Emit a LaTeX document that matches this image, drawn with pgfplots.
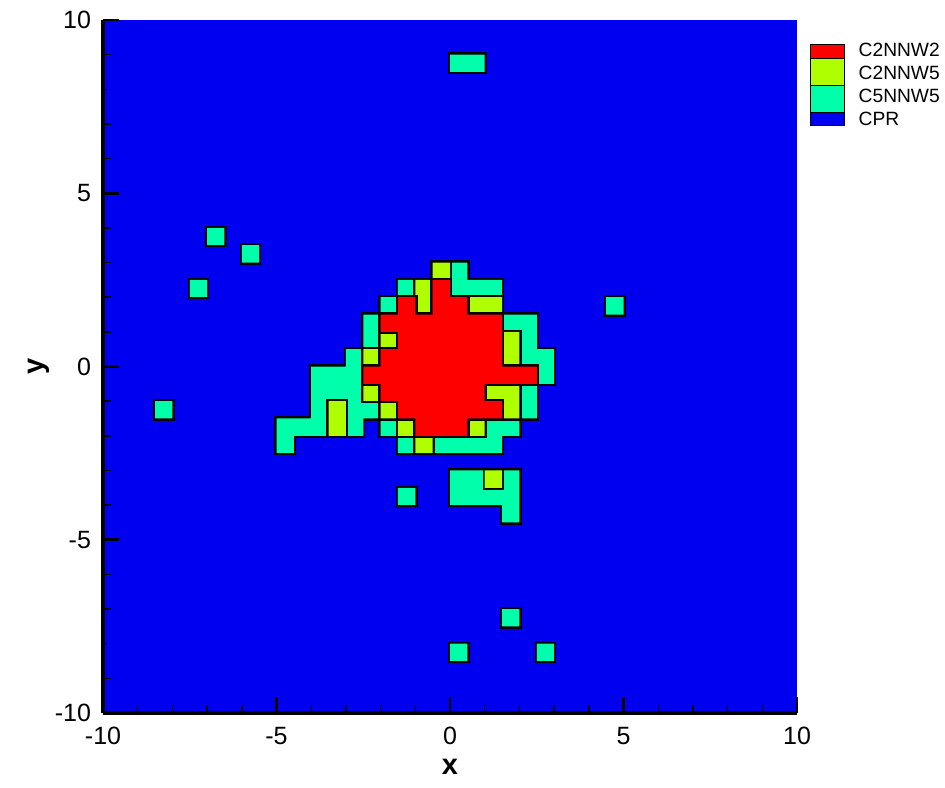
\documentclass[border=0pt]{standalone}
\usepackage{pgfplots}
\pgfplotsset{compat=1.18}
\usepackage{pgfplotstable}
\usepackage{fontspec}
\setmainfont{Liberation Sans}
\definecolor{cprblue}{RGB}{0,0,240}
\definecolor{cfive}{RGB}{0,255,170}
\definecolor{ctwofive}{RGB}{175,255,0}
\definecolor{ctwotwo}{RGB}{255,0,0}

% Layer 1: all non-CPR cells (C5NNW5 and above), as rectangles separated by nan
\pgfplotstableread{
x y
-0.5 2.5
0.5 2.5
0.5 3
-0.5 3
-0.5 2.5
nan nan
-1.5 2
1.5 2
1.5 2.5
-1.5 2.5
-1.5 2
nan nan
-2 1.5
1.5 1.5
1.5 2
-2 2
-2 1.5
nan nan
-2.5 0.5
2.5 0.5
2.5 1.5
-2.5 1.5
-2.5 0.5
nan nan
-3 0
3 0
3 0.5
-3 0.5
-3 0
nan nan
-4 -0.5
3 -0.5
3 0
-4 0
-4 -0.5
nan nan
-4 -1.5
2.5 -1.5
2.5 -0.5
-4 -0.5
-4 -1.5
nan nan
-5 -2
-2.5 -2
-2.5 -1.5
-5 -1.5
-5 -2
nan nan
-2 -2
2 -2
2 -1.5
-2 -1.5
-2 -2
nan nan
-5 -2.5
-4.5 -2.5
-4.5 -2
-5 -2
-5 -2.5
nan nan
-1.5 -2.5
1.5 -2.5
1.5 -2
-1.5 -2
-1.5 -2.5
nan nan
0 -4
2 -4
2 -3
0 -3
0 -4
nan nan
-1.5 -4
-1 -4
-1 -3.5
-1.5 -3.5
-1.5 -4
nan nan
1.5 -4.5
2 -4.5
2 -4
1.5 -4
1.5 -4.5
nan nan
0 8.5
1 8.5
1 9
0 9
0 8.5
nan nan
-7 3.5
-6.5 3.5
-6.5 4
-7 4
-7 3.5
nan nan
-6 3
-5.5 3
-5.5 3.5
-6 3.5
-6 3
nan nan
-7.5 2
-7 2
-7 2.5
-7.5 2.5
-7.5 2
nan nan
-8.5 -1.5
-8 -1.5
-8 -1
-8.5 -1
-8.5 -1.5
nan nan
4.5 1.5
5 1.5
5 2
4.5 2
4.5 1.5
nan nan
1.5 -7.5
2 -7.5
2 -7
1.5 -7
1.5 -7.5
nan nan
0 -8.5
0.5 -8.5
0.5 -8
0 -8
0 -8.5
nan nan
2.5 -8.5
3 -8.5
3 -8
2.5 -8
2.5 -8.5
}\layerA

% Layer 2: C2NNW5 and C2NNW2 cells
\pgfplotstableread{
x y
-0.5 2.5
0 2.5
0 3
-0.5 3
-0.5 2.5
nan nan
-1 2
0 2
0 2.5
-1 2.5
-1 2
nan nan
-1.5 1.5
1.5 1.5
1.5 2
-1.5 2
-1.5 1.5
nan nan
-2 1
1.5 1
1.5 1.5
-2 1.5
-2 1
nan nan
-2 0.5
2 0.5
2 1
-2 1
-2 0.5
nan nan
-2.5 0
2 0
2 0.5
-2.5 0.5
-2.5 0
nan nan
-2.5 -0.5
2.5 -0.5
2.5 0
-2.5 0
-2.5 -0.5
nan nan
-2.5 -1
2 -1
2 -0.5
-2.5 -0.5
-2.5 -1
nan nan
-2 -1.5
2 -1.5
2 -1
-2 -1
-2 -1.5
nan nan
-1.5 -2
1 -2
1 -1.5
-1.5 -1.5
-1.5 -2
nan nan
-1 -2.5
-0.5 -2.5
-0.5 -2
-1 -2
-1 -2.5
nan nan
-3.5 -2
-3 -2
-3 -1
-3.5 -1
-3.5 -2
nan nan
1 -3.5
1.5 -3.5
1.5 -3
1 -3
1 -3.5
}\layerB

% Layer 3: C2NNW2 cells
\pgfplotstableread{
x y
-0.5 2
0 2
0 2.5
-0.5 2.5
-0.5 2
nan nan
-1.5 1.5
-1 1.5
-1 2
-1.5 2
-1.5 1.5
nan nan
-0.5 1.5
0.5 1.5
0.5 2
-0.5 2
-0.5 1.5
nan nan
-2 1
1.5 1
1.5 1.5
-2 1.5
-2 1
nan nan
-1.5 0.5
1.5 0.5
1.5 1
-1.5 1
-1.5 0.5
nan nan
-2 0
1.5 0
1.5 0.5
-2 0.5
-2 0
nan nan
-2.5 -0.5
2.5 -0.5
2.5 0
-2.5 0
-2.5 -0.5
nan nan
-2 -1
1 -1
1 -0.5
-2 -0.5
-2 -1
nan nan
-1.5 -1.5
1.5 -1.5
1.5 -1
-1.5 -1
-1.5 -1.5
nan nan
-1 -2
0.5 -2
0.5 -1.5
-1 -1.5
-1 -2
}\layerC

\begin{document}
\begin{tikzpicture}
\path[use as bounding box] (-51.5pt,-37pt) rectangle (421pt,356.5pt);
\begin{axis}[
  name=ax, at={(0pt,0pt)}, anchor=south west,
  scale only axis, width=347pt, height=346.5pt,
  xmin=-10, xmax=10, ymin=-10, ymax=10,
  axis x line*=bottom, axis y line*=left,
  axis line style={line width=2pt, -},
  xtick={-10,-5,0,5,10}, ytick={-10,-5,0,5,10},
  minor tick num=4,
  tick align=inside,
  major tick length=8pt, minor tick length=4.2pt,
  every major tick/.style={line width=1.4pt, black},
  every minor tick/.style={line width=0.7pt, black},
  axis background/.style={fill=cprblue},
  axis on top,
  unbounded coords=jump,
  /pgf/number format/assume math mode=true,
  tick label style={font=\fontsize{12.5}{15}\selectfont},
  xticklabel style={yshift=-3.5pt},
  yticklabel style={xshift=-2.5pt},
  xlabel={x}, ylabel={y},
  label style={font=\bfseries\fontsize{14.5}{17}\selectfont},
  x label style={at={(axis description cs:0.5,-0.078)}, anchor=center},
  y label style={at={(axis description cs:-0.092,0.5)}, anchor=center},
]
\addplot[forget plot, mark=none, draw=black, line width=2.2pt, line cap=rect, line join=miter] table {\layerA};
\addplot[forget plot, mark=none, fill=cfive, draw=none] table {\layerA};
\addplot[forget plot, mark=none, draw=black, line width=2.2pt, line cap=rect, line join=miter] table {\layerB};
\addplot[forget plot, mark=none, fill=ctwofive, draw=none] table {\layerB};
\addplot[forget plot, mark=none, draw=black, line width=2.2pt, line cap=rect, line join=miter] table {\layerC};
\addplot[forget plot, mark=none, fill=ctwotwo, draw=none] table {\layerC};
\end{axis}
\begin{scope}[shift={(ax.south west)}, line width=0.7pt]
\draw[fill=ctwotwo] (353.85pt,327.35pt) rectangle (370.65pt,334.35pt);
\draw[fill=ctwofive] (353.85pt,313.85pt) rectangle (370.65pt,327.35pt);
\draw[fill=cfive] (353.85pt,300.35pt) rectangle (370.65pt,313.85pt);
\draw[fill=cprblue] (353.85pt,293.85pt) rectangle (370.65pt,300.35pt);
\begin{scope}[every node/.style={anchor=west, inner sep=0pt, font=\fontsize{9.6}{11}\selectfont}]
\node at (377.5pt,331.5pt) {C2NNW2};
\node at (377.5pt,320.25pt) {C2NNW5};
\node at (377.5pt,308.5pt) {C5NNW5};
\node at (377.5pt,297pt) {CPR};
\end{scope}
\end{scope}
\end{tikzpicture}
\end{document}
